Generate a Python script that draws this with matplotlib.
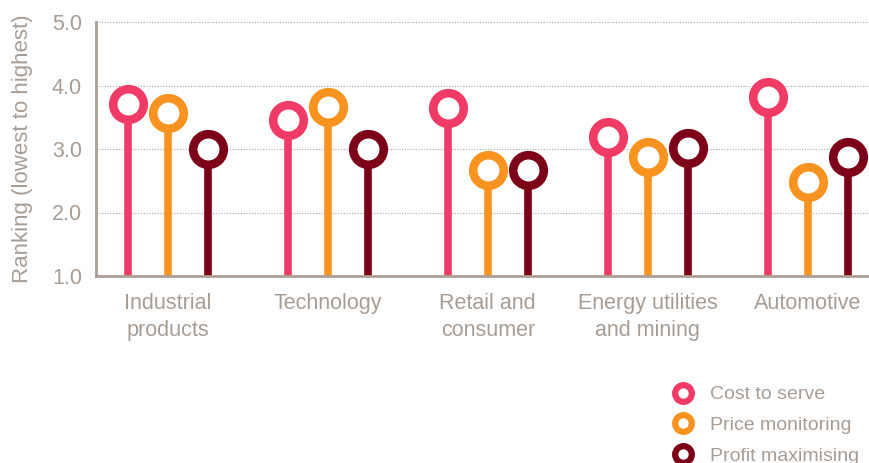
import matplotlib
matplotlib.use("Agg")
import matplotlib.pyplot as plt
from matplotlib.lines import Line2D
import numpy as np

plt.rcParams['font.family'] = ['Liberation Sans', 'DejaVu Sans']

categories = ["Industrial\nproducts", "Technology", "Retail and\nconsumer",
              "Energy utilities\nand mining", "Automotive"]
series_names = ["Cost to serve", "Price monitoring", "Profit maximising"]
cost_to_serve = [3.71, 3.46, 3.64, 3.19, 3.82]
price_monitoring = [3.57, 3.66, 2.67, 2.88, 2.48]
profit_maximising = [3.00, 3.00, 2.67, 3.01, 2.88]
yticks = [1.0, 2.0, 3.0, 4.0, 5.0]

colors = ["#ef3b65", "#f7931e", "#7d0019"]
grey = "#a79d95"
series = [cost_to_serve, price_monitoring, profit_maximising]

fig = plt.figure(figsize=(8.7, 4.63), dpi=100)
ax = fig.add_axes([96/870, 1-276/463, 1-96/870, (276-22)/463])

x = np.arange(len(categories))
offsets = [-0.25, 0.0, 0.25]
for vals, col, off, name in zip(series, colors, offsets, series_names):
    xs = x + off
    ax.vlines(xs, 1.0, vals, colors=col, linewidth=5.5, zorder=2)
    ax.plot(xs, vals, linestyle='none', marker='o', markersize=22,
            markerfacecolor='white', markeredgecolor=col, markeredgewidth=6.2,
            zorder=3, clip_on=False, label=name)

ax.set_ylim(1.0, 5.0)
ax.set_xlim(-0.45, 4.39)
ax.set_yticks(yticks)
ax.set_yticklabels([f"{v:.1f}" for v in yticks])
ax.set_xticks(x)
ax.set_xticklabels(categories)
ax.tick_params(axis='both', length=0, colors=grey, labelsize=15.5)
ax.tick_params(axis='y', pad=10)
ax.tick_params(axis='x', pad=12)
for t in ax.get_xticklabels():
    t.set_linespacing(1.42)
ax.set_ylabel("Ranking (lowest to highest)", color=grey, fontsize=16, labelpad=14)

for s in ['top', 'right']:
    ax.spines[s].set_visible(False)
for s in ['left', 'bottom']:
    ax.spines[s].set_color("#ab9f95")
    ax.spines[s].set_linewidth(2)
for v in yticks[1:]:
    ax.axhline(v, color="#aaa39c", linestyle=(0, (1, 1.5)), linewidth=0.8, zorder=1)

handles = [Line2D([], [], linestyle='none', marker='o', markersize=12,
                  markerfacecolor='white', markeredgecolor=c, markeredgewidth=4.5)
           for c in colors]
leg = fig.legend(handles, series_names, loc='upper left',
                 bbox_to_anchor=(666/870, 1-378/463), frameon=False,
                 fontsize=14, labelspacing=0.68, handletextpad=0.85,
                 handlelength=1.0, borderaxespad=0)
for t in leg.get_texts():
    t.set_color(grey)

fig.savefig("out.png", dpi=100)
